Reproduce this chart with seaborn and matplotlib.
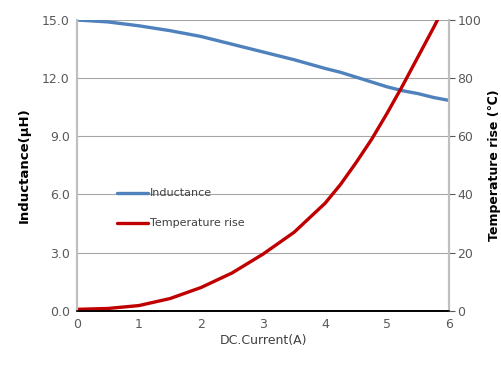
import matplotlib
matplotlib.use("Agg")
import matplotlib.pyplot as plt
import seaborn as sns
import pandas as pd

# values
current = [0, 0.5, 1, 1.5, 2, 2.5, 3, 3.5, 4, 4.25, 4.5, 4.75, 5, 5.25, 5.5, 5.75, 6]
inductance = [15.0, 14.9, 14.7, 14.45, 14.15, 13.75, 13.35, 12.95, 12.5, 12.3, 12.05, 11.8, 11.55, 11.35, 11.2, 11.0, 10.85]
temp_rise = [0.5, 0.8, 1.8, 4.2, 8.0, 13.0, 19.5, 27.0, 37.0, 43.5, 51.0, 59.0, 68.0, 77.5, 87.5, 97.5, 108.0]

df = pd.DataFrame({"current": current, "inductance": inductance, "temp": temp_rise})

sns.set_style("white")
plt.rcParams["font.family"] = ["DejaVu Sans"]

fig, ax = plt.subplots(figsize=(5.02, 3.7), dpi=100)
fig.subplots_adjust(left=0.153, right=0.895, top=0.946, bottom=0.16)
ax2 = ax.twinx()

sns.lineplot(data=df, x="current", y="inductance", ax=ax, color="#4F81BD", linewidth=2.4, label="Inductance", legend=False)
sns.lineplot(data=df, x="current", y="temp", ax=ax2, color="#C00000", linewidth=2.4, label="Temperature rise", legend=False)

ax.set_xlim(0, 6)
ax.set_ylim(0, 15)
ax2.set_ylim(0, 100)
ax.set_xticks(range(0, 7))
ax.set_yticks([0, 3, 6, 9, 12, 15])
ax.set_yticklabels(["0.0", "3.0", "6.0", "9.0", "12.0", "15.0"])
ax2.set_yticks([0, 20, 40, 60, 80, 100])

ax.yaxis.grid(True, color="#A6A6A6", linewidth=0.8)
ax.set_axisbelow(True)

for a in (ax, ax2):
    a.spines["top"].set_visible(False)
    a.spines["left"].set_color("#BFBFBF")
    a.spines["right"].set_color("#BFBFBF")
    a.spines["left"].set_linewidth(1.5)
    a.spines["right"].set_linewidth(1.5)
    a.spines["bottom"].set_color("black")
    a.spines["bottom"].set_linewidth(1.2)

ax.tick_params(axis="both", colors="#595959", labelsize=9, length=0, pad=5)
ax2.tick_params(axis="y", colors="#595959", labelsize=9, length=4, width=0.8, direction="out", pad=2)
for t in ax2.yaxis.get_ticklines():
    t.set_color("#808080")

ax.set_xlabel("DC.Current(A)", fontsize=9, color="#404040", labelpad=2)
ax.set_ylabel("Inductance(μH)", fontsize=9.5, fontweight="bold", color="black", labelpad=8)
ax2.set_ylabel("Temperature rise (℃)", fontsize=9, fontweight="bold", color="black", labelpad=5)

h1, l1 = ax.get_legend_handles_labels()
h2, l2 = ax2.get_legend_handles_labels()
leg = ax2.legend(h1 + h2, l1 + l2, loc="upper left", bbox_to_anchor=(0.08, 0.455),
                 frameon=False, fontsize=8, handlelength=2.8, handletextpad=0.2,
                 labelspacing=1.8, labelcolor="#404040")

fig.savefig("out.png", dpi=100)
